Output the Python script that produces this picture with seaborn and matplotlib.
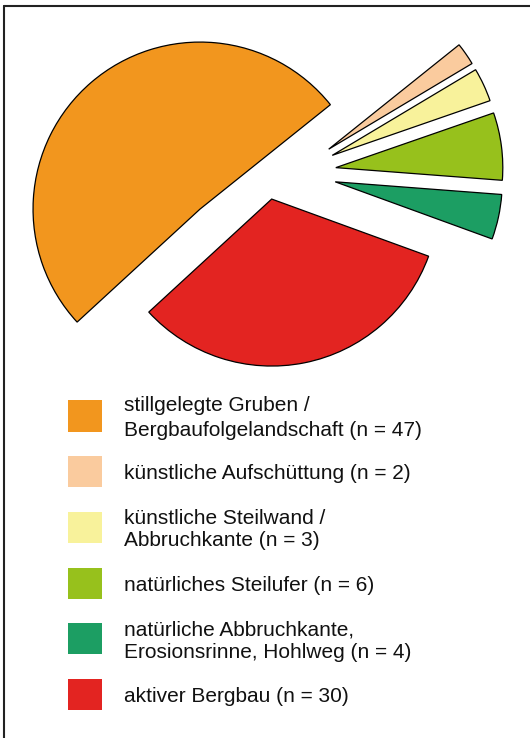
import matplotlib
matplotlib.use("Agg")
import matplotlib.pyplot as plt
import seaborn as sns
from matplotlib.lines import Line2D

categories = [
    "stillgelegte Gruben /\nBergbaufolgelandschaft",
    "künstliche Aufschüttung",
    "künstliche Steilwand /\nAbbruchkante",
    "natürliches Steilufer",
    "natürliche Abbruchkante,\nErosionsrinne, Hohlweg",
    "aktiver Bergbau",
]
counts = [47, 2, 3, 6, 4, 30]
colors = ["#F2961E", "#FACB9E", "#F8F29B", "#97C11C", "#1C9E63", "#E32421"]

sns.set_theme(style="white")
plt.rcParams["font.family"] = ["Liberation Sans", "DejaVu Sans"]

W, H = 530, 738
fig = plt.figure(figsize=(W / 100, H / 100), dpi=100)

# --- pie (upper part), radius = 167 px ---
R = 167
cx, cy = 294.4, 173          # pie centre in px from top-left
top_h = 380
ax = fig.add_axes([0, 1 - top_h / H, 1, top_h / H])
explode = [0, 0.25, 0.25, 0.25, 0.25, 0]
wedges, _ = ax.pie(counts, colors=colors, explode=explode, startangle=222.6,
                   counterclock=False,
                   wedgeprops=dict(edgecolor="black", linewidth=0.9))
# the two big slices are pulled apart by hand in the original
wedges[0].set_center((-0.565, -0.216))
wedges[5].set_center((-0.136, -0.156))
ax.set_xlim(-cx / R, (W - cx) / R)
ax.set_ylim(-(top_h - cy) / R, cy / R)
ax.set_aspect("auto")
ax.axis("off")

# --- legend (lower part) ---
row0, step = 416, 55.7
lax = fig.add_axes([0, 0, 1, (H - top_h) / H])
rect = [(-17, -15.5), (17, -15.5), (17, 15.5), (-17, 15.5)]
sns.scatterplot(x=[85] * len(categories), y=list(range(len(categories))),
                hue=categories, palette=colors, marker=rect, s=600,
                linewidth=0, legend=False, ax=lax)
for i, (lab, n) in enumerate(zip(categories, counts)):
    ls = 1.4 if i == 0 else 1.2   # first entry is a bit more spread out
    lax.text(124, i + 0.04, f"{lab} (n = {n})", va="center", ha="left",
             fontsize=15, linespacing=ls, color="#111111")
lax.set_xlim(0, W)
lax.set_ylim((H - row0) / step, -(row0 - top_h) / step)
lax.axis("off")

# frame lines (left + top) as in the scanned figure
fig.add_artist(Line2D([4 / W, 4 / W], [0, 1 - 6 / H], transform=fig.transFigure,
                      color="#222222", lw=1.5))
fig.add_artist(Line2D([4 / W, 1], [1 - 6 / H, 1 - 6 / H], transform=fig.transFigure,
                      color="#222222", lw=1.5))

fig.savefig("out.png", dpi=100)
